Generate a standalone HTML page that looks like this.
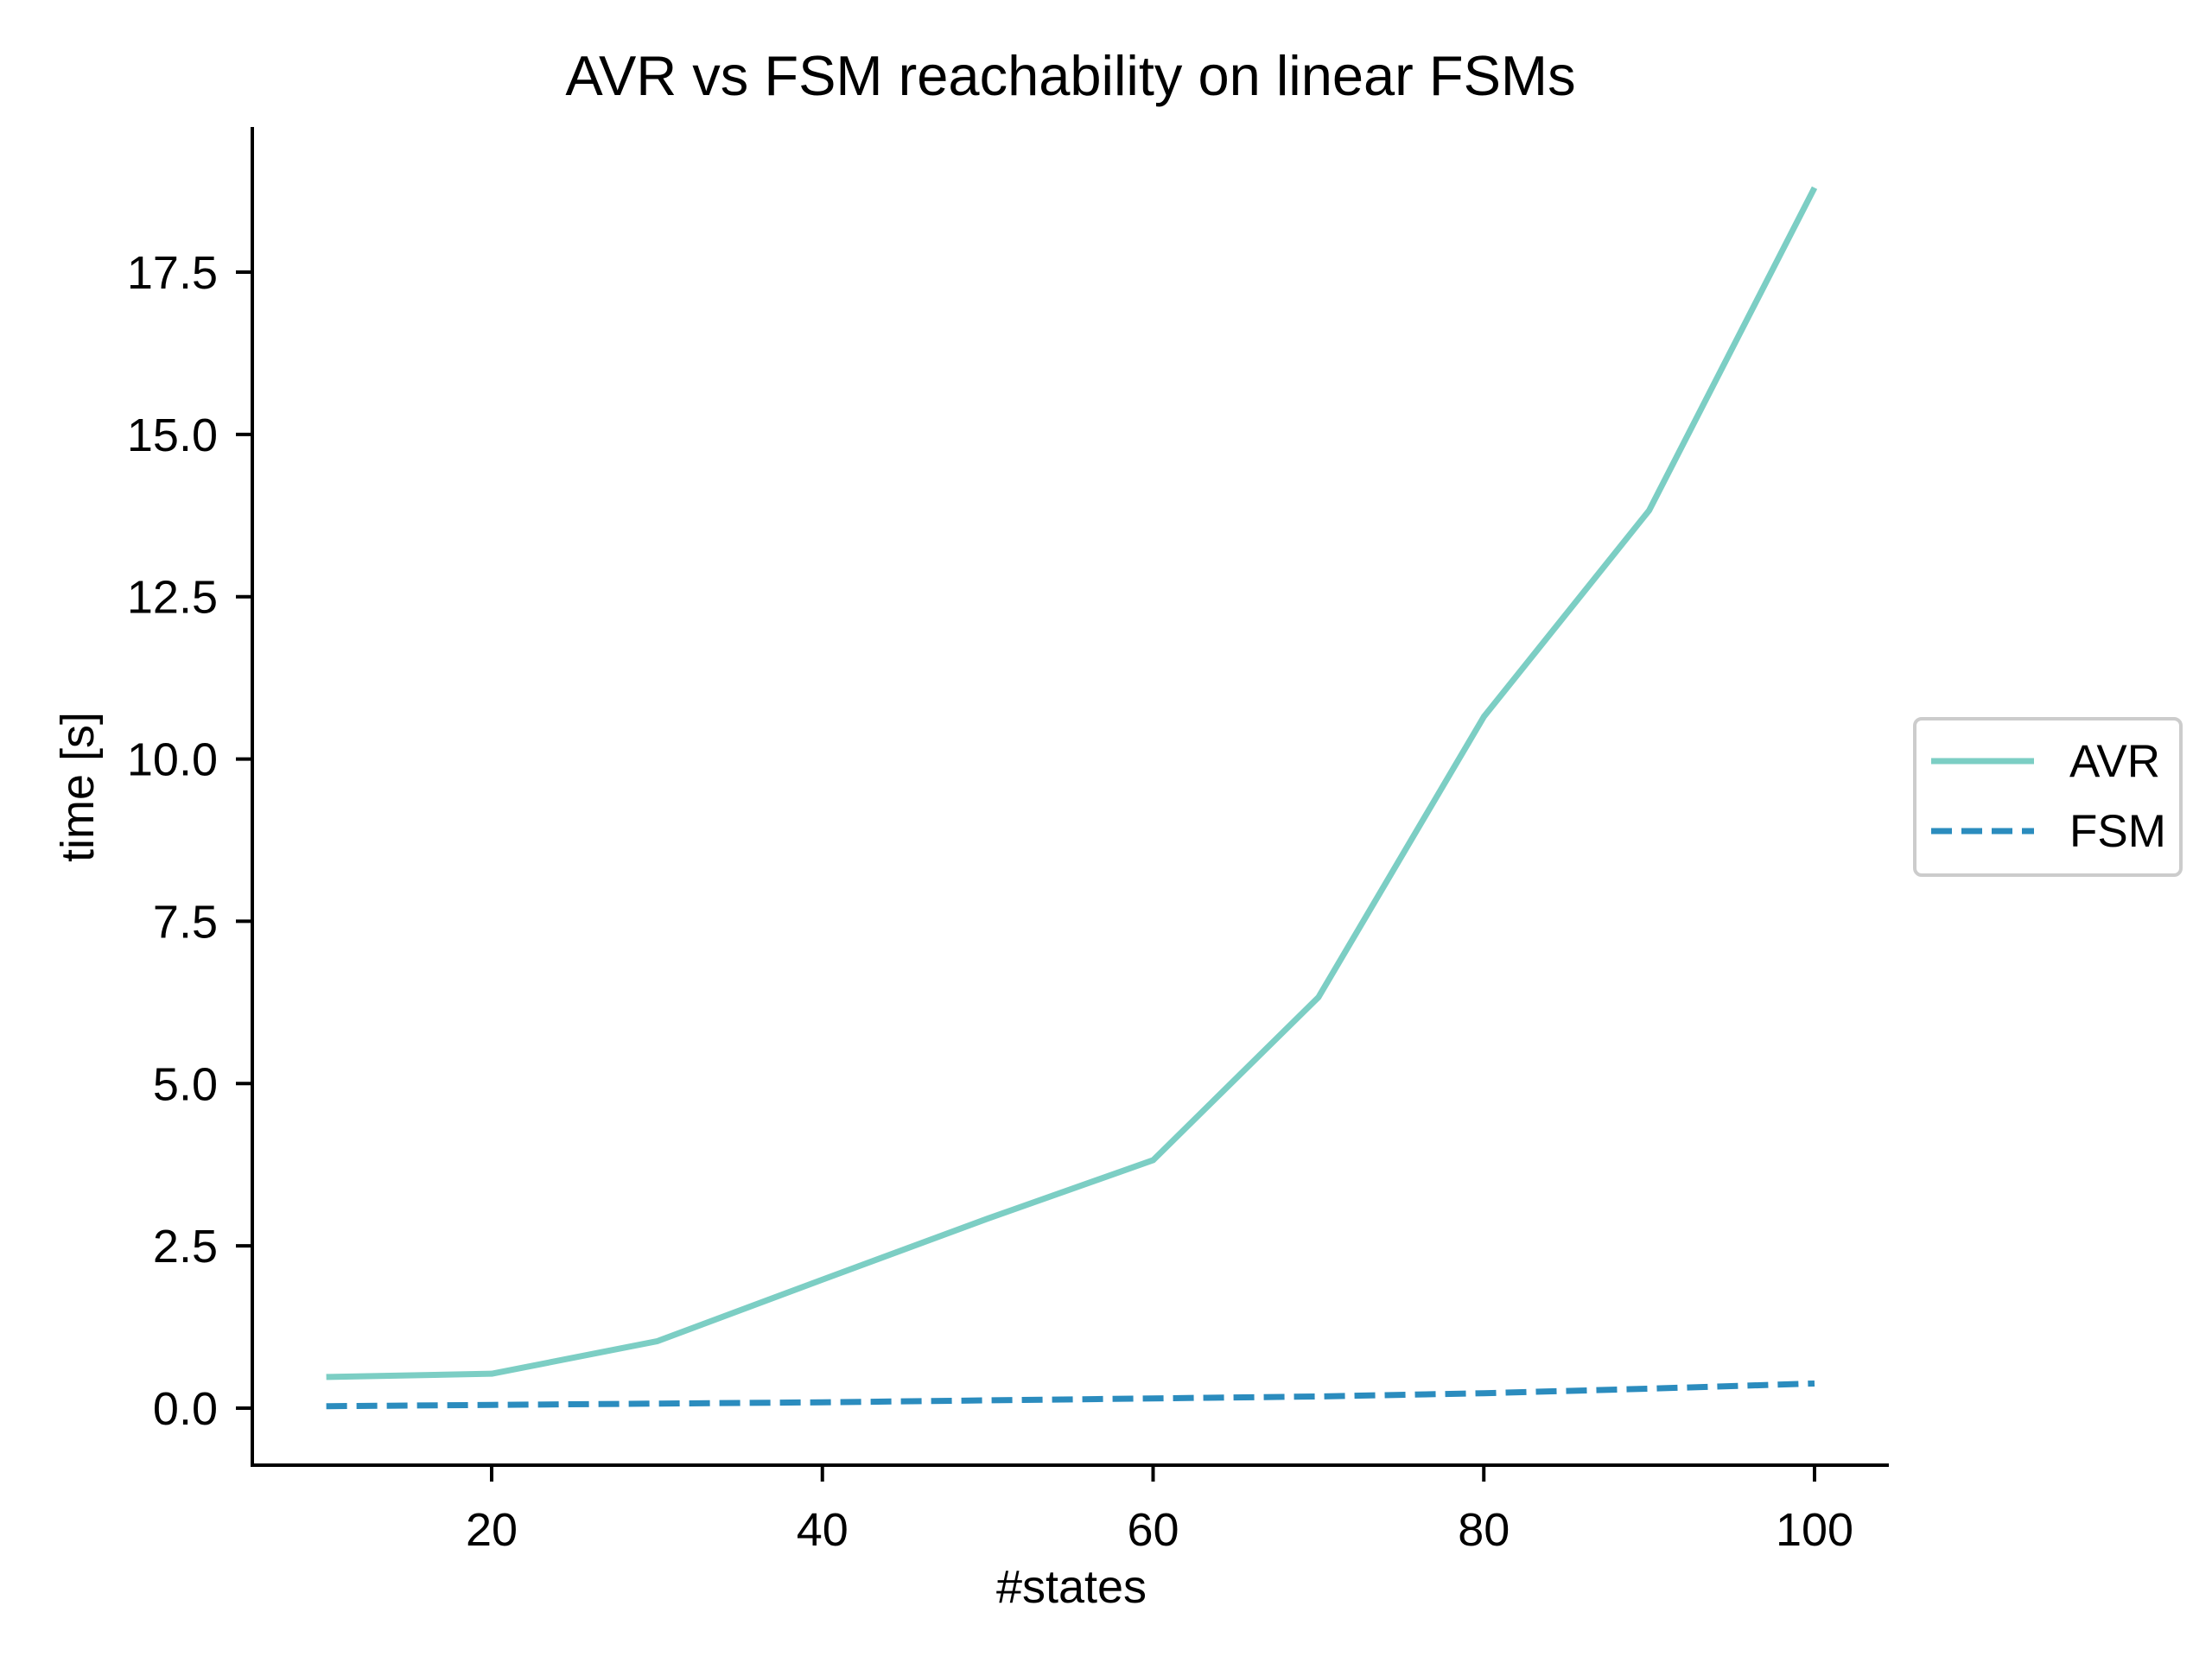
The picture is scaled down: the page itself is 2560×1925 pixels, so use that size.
<!DOCTYPE html>
<html><head><meta charset="utf-8"><style>
body{margin:0;background:#fff}
svg text{font-family:"Liberation Sans",sans-serif;fill:#000}
</style></head><body>
<svg id="chart" width="2560" height="1920" viewBox="0 0 2560 1920" xmlns="http://www.w3.org/2000/svg">
<rect width="2560" height="1920" fill="#fff"/>
<text x="1239" y="110" font-size="65" text-anchor="middle">AVR vs FSM reachability on linear FSMs</text>
<g id="axes"></g>
<g id="series"></g>
<text x="1240" y="1855" font-size="54" text-anchor="middle">#states</text>
<text transform="translate(108,911) rotate(-90)" font-size="54" text-anchor="middle">time [s]</text>
<g>
<rect x="2216" y="832" width="308" height="181" rx="8" fill="#fff" stroke="#ccc" stroke-width="4"/>
<line x1="2235" y1="881" x2="2354" y2="881" stroke="#7ccec4" stroke-width="7"/>
<text x="2395" y="899" font-size="53">AVR</text>
<line x1="2235" y1="962" x2="2354" y2="962" stroke="#2b8cbe" stroke-width="7" stroke-dasharray="24,11"/>
<text x="2395" y="980" font-size="53">FSM</text>
</g>
</svg>
<script>
const xs=[10,20,30,40,50,60,70,80,90,100];
const avr=[0.48,0.53,1.03,1.98,2.92,3.82,6.33,10.65,13.83,18.8];
const fsm=[0.03,0.05,0.07,0.09,0.12,0.15,0.18,0.23,0.3,0.38];
const xTicks=[20,40,60,80,100];
const yTicks=[0,2.5,5,7.5,10,12.5,15,17.5];
const yTickLabels=["0.0","2.5","5.0","7.5","10.0","12.5","15.0","17.5"];
const L=292,R=2186,T=147,B=1696;
function X(v){return 569+(v-20)*(2100-569)/80;}
function Y(v){return 1630-v*(1630-315)/17.5;}
const NS="http://www.w3.org/2000/svg";
const ax=document.getElementById('axes'),se=document.getElementById('series');
function mk(t,a,p){const e=document.createElementNS(NS,t);for(const k in a)e.setAttribute(k,a[k]);p.appendChild(e);return e;}
let sp=mk('line',{x1:L,y1:T,x2:L,y2:B,stroke:'#000','stroke-width':4},ax);


sp=mk('line',{x1:L-2,y1:B,x2:R,y2:B,stroke:'#000','stroke-width':4},ax);


xTicks.forEach(v=>{
 const t=mk('line',{x1:X(v),y1:B,x2:X(v),y2:B+19,stroke:'#000','stroke-width':4},ax);
 
 
 const l=mk('text',{x:X(v),y:1789,'font-size':54,'text-anchor':'middle'},ax);
 l.textContent=v;
 
 
});
yTicks.forEach((v,i)=>{
 const t=mk('line',{x1:L-19,y1:Y(v),x2:L,y2:Y(v),stroke:'#000','stroke-width':4},ax);
 
 
 const l=mk('text',{x:252,y:Y(v)+19,'font-size':54,'text-anchor':'end'},ax);
 l.textContent=yTickLabels[i];
 
 
});
function pts(a){return xs.map((x,i)=>X(x)+','+Y(a[i])).join(' ');}
let p=mk('polyline',{points:pts(avr),fill:'none',stroke:'#7ccec4','stroke-width':7,'stroke-linejoin':'round'},se);


p=mk('polyline',{points:pts(fsm),fill:'none',stroke:'#2b8cbe','stroke-width':7,'stroke-dasharray':'24,11'},se);


</script>
</body></html>
